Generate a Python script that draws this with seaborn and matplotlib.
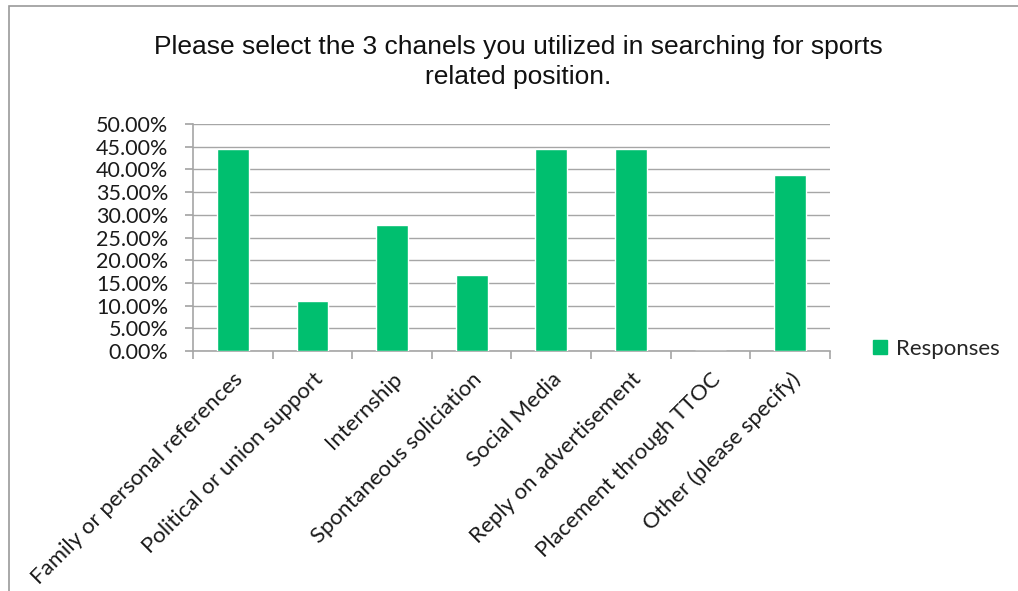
import pandas as pd
import matplotlib.pyplot as plt
import matplotlib.patches as mpatches
from matplotlib.ticker import PercentFormatter, FixedLocator
import seaborn as sns

channels = [
    "Family or personal references",
    "Political or union support",
    "Internship",
    "Spontaneous soliciation",
    "Social Media",
    "Reply on advertisement",
    "Placement through TTOC",
    "Other (please specify)",
]
responses = [44.44, 11.11, 27.78, 16.67, 44.44, 44.44, 0.0, 38.89]
yticks = [0, 5, 10, 15, 20, 25, 30, 35, 40, 45, 50]

bar_color = "#00BF6F"
grid_color = "#A6A6A6"

sns.set_theme(style="white")
plt.rcParams['font.family'] = ['Lato', 'DejaVu Sans']

df = pd.DataFrame({"channel": channels, "value": responses})

fig = plt.figure(figsize=(10.18, 5.91), dpi=100)
ax = fig.add_axes([0.1896, 0.406, 0.6257, 0.384])

sns.barplot(data=df, x="channel", y="value", color=bar_color, width=0.4,
            saturation=1, ax=ax, zorder=3)

ax.set_ylim(0, 50)
ax.set_xlim(-0.5, len(channels) - 0.5)
ax.set_yticks(yticks)
ax.yaxis.set_major_formatter(PercentFormatter(decimals=2))
ax.yaxis.grid(True, color=grid_color, linewidth=1, zorder=0)
ax.set_xlabel("")
ax.set_ylabel("")

for s in ["top", "right"]:
    ax.spines[s].set_visible(False)
for s in ["left", "bottom"]:
    ax.spines[s].set_color(grid_color)
    ax.spines[s].set_linewidth(1.2)

ax.tick_params(axis="y", which="major", left=True, length=5.8, color=grid_color,
               labelsize=15.5, labelcolor="#1a1a1a", pad=12)
ax.set_xticks(range(len(channels)))
ax.set_xticklabels(channels, rotation=45, ha="right", rotation_mode="anchor",
                   fontsize=16, color="#1a1a1a")
ax.tick_params(axis="x", which="major", bottom=False, length=0, pad=13)
ax.xaxis.set_minor_locator(FixedLocator([i - 0.5 for i in range(len(channels) + 1)]))
ax.tick_params(axis="x", which="minor", bottom=True, length=6, color=grid_color, width=1.2)

fig.text(0.509, 0.895, "Please select the 3 chanels you utilized in searching for sports\nrelated position.",
         ha="center", va="center", fontsize=19, family=['Liberation Sans', 'DejaVu Sans'],
         color="#111111", linespacing=1.35)

handle = mpatches.Patch(color=bar_color, label="Responses")
fig.legend(handles=[handle], loc="center left", bbox_to_anchor=(0.858, 0.41),
           frameon=False, fontsize=16, handlelength=0.6, handleheight=0.6,
           handletextpad=0.4, borderaxespad=0, borderpad=0)

# outer chart border
border = mpatches.Rectangle((8.5 / 1018, -0.05), 1.1, 1.05 - 6.5 / 591, transform=fig.transFigure,
                            fill=False, edgecolor="#9A9A9A", linewidth=1.2)
fig.patches.append(border)

fig.savefig("out.png", dpi=100, facecolor="white")
